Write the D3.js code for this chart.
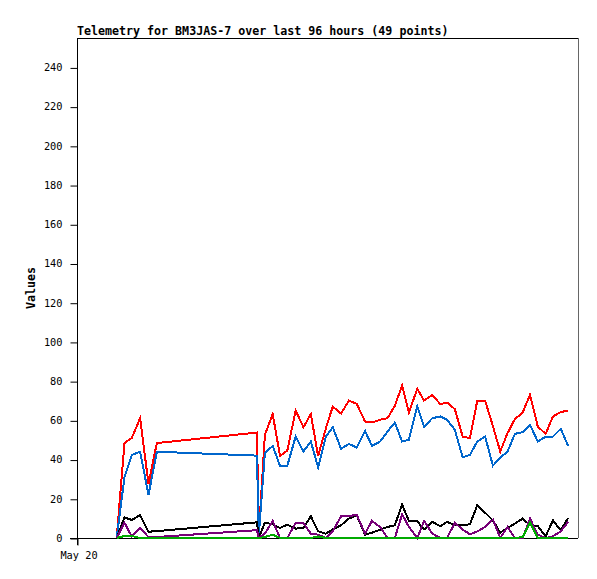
<!DOCTYPE html>
<html>
<head>
<meta charset="utf-8">
<script src="https://cdn.jsdelivr.net/npm/d3@7"></script>
<style>
  html, body { margin: 0; padding: 0; background: #fff; }
  svg { display: block; }
</style>
</head>
<body>
<svg id="chart" width="597" height="579"></svg>
<script>
const titleText = "Telemetry for BM3JAS-7 over last 96 hours (49 points)";
const yAxisLabel = "Values";
const xTickHours = [0];
const xTickLabels = ["May 20"];
const yTicks = [0, 20, 40, 60, 80, 100, 120, 140, 160, 180, 200, 220, 240];

// hours since May 20 00:00
const hours = [7.6, 9.1, 10.5, 12.1, 13.7, 15.3, 34.5, 34.8, 36.0, 37.5, 38.9, 40.3, 41.9, 43.4, 44.8, 46.2, 47.7, 49.0,
  50.6, 52.1, 53.6, 55.2, 56.5, 58.1, 59.5, 60.9, 62.3, 63.6, 65.2, 66.5, 68.1, 69.6, 70.9, 72.4, 73.9, 75.3, 76.7, 78.2,
  79.7, 81.1, 82.5, 83.9, 85.4, 86.8, 88.3, 89.8, 91.2, 92.7, 94.1];

const redValues = [0, 48.4, 51, 61.1, 27.5, 48.4, 53.8, 0, 52.6, 63.2, 41.9, 44.6, 65.0, 56.5, 63.2, 41.9, 56, 67.0,
  63.5, 70.1, 68.4, 59.4, 58.9, 60.3, 61.1, 67.4, 77.8, 64.0, 76.1, 70.1, 73.0, 68.3, 69.1, 65.7, 51.7, 50.9, 70.1, 70.0,
  57, 44.1, 53.5, 60.6, 64.0, 73.0, 56.8, 53.1, 62.0, 64.2, 65.0];

const blueValues = [0, 31, 42.4, 44, 22, 44, 42, 0, 43.2, 47, 36.8, 36.8, 51.7, 44.1, 49.2, 36.1, 51.7, 56.5,
  45.5, 48, 46.1, 54.6, 47, 49.2, 54.3, 58.9, 49.2, 50.1, 67.1, 56.8, 61.1, 62, 60.3, 55.2, 41.2, 42.4, 49.2, 51.7,
  36.9, 41, 44.1, 53.1, 54, 57.7, 49.2, 51.7, 51.7, 55.7, 47];

const blackValues = [0, 10.5, 9.2, 11.7, 3.2, 3.5, 8, 0, 7.8, 7.0, 5.1, 6.8, 4.8, 5.1, 11.1, 3.4, 2.2, 4.4,
  6.5, 9.9, 11.6, 1.7, 2.7, 4.3, 5.6, 6.5, 17.0, 8.7, 8.5, 4.3, 8.2, 6.0, 8.2, 6.5, 6.5, 7.0, 16.7, 12.9,
  9.0, 2.7, 5.1, 7.3, 9.9, 6.5, 6.0, 0.9, 9.0, 3.9, 10.2];

const purpleValues = [0, 7.8, 0.7, 5, 0.5, 0.5, 4, 0, 2.2, 8.7, 0, 0, 7.7, 7.7, 2.2, 1.7, 0, 3.4,
  11.1, 11.1, 11.9, 2.2, 8.7, 5.6, 0, 0, 12.1, 5.6, 0, 8.7, 2.2, 0, 0, 7.7, 4.3, 1.9, 3.4, 5.6,
  9.4, 0, 5.6, 0, 0, 9.9, 1.7, 0, 0.9, 3.4, 8.2];

const greenValues = [0, 1, 1, 0, 0, 0, 0, 0, 0.5, 1.7, 0, 0, 0, 0, 0, 0.8, 0, 0,
  0, 0, 0, 0, 0, 0, 0, 0, 0, 0, 0, 0, 0, 0, 0, 0, 0, 0, 0, 0,
  0, 0, 0, 0, 0.5, 8, 0, 0, 0, 0, 0];

const seriesList = [
  { values: redValues, color: "#ff0000" },
  { values: blueValues, color: "#0066cc" },
  { values: blackValues, color: "#000000" },
  { values: purpleValues, color: "#770077" },
  { values: greenValues, color: "#00aa00" }
];

const svg = d3.select("#chart");
const W = 597, H = 579;
const margin = { left: 77, right: 19, top: 38, bottom: 41 };
const x = d3.scaleLinear().domain([0, 96]).range([margin.left, W - margin.right]);
const y = d3.scaleLinear().domain([0, 255]).range([H - margin.bottom, margin.top]);

svg.append("rect").attr("width", W).attr("height", H).attr("fill", "#fff");

// frame top & right
svg.append("line").attr("x1", x(0)).attr("x2", x(96)).attr("y1", y(255) + 0.5).attr("y2", y(255) + 0.5)
  .attr("stroke", "#000").attr("stroke-width", 1);
svg.append("line").attr("x1", x(96) + 0.5).attr("x2", x(96) + 0.5).attr("y1", y(255)).attr("y2", y(0))
  .attr("stroke", "#666").attr("stroke-width", 1);

const mono = "'DejaVu Sans Mono', 'Liberation Mono', monospace";

// Y axis
const yAxis = d3.axisLeft(y).tickValues(yTicks).tickSize(7).tickPadding(8).tickFormat(d3.format("d"));
const yg = svg.append("g").attr("transform", `translate(${x(0) + 0.5},0)`).call(yAxis);
yg.select(".domain").remove();
yg.append("line").attr("x1", 0).attr("x2", 0).attr("y1", y(255)).attr("y2", y(0) + 7).attr("stroke", "#000");
yg.selectAll(".tick line").attr("stroke", "#000").attr("transform", "translate(0,0.5)");
yg.selectAll(".tick text").attr("font-family", mono).attr("font-size", "10.3px").attr("fill", "#000");

// X axis
const xAxis = d3.axisBottom(x).tickValues(xTickHours).tickSize(7).tickPadding(6)
  .tickFormat((d, i) => xTickLabels[i]);
const xg = svg.append("g").attr("transform", `translate(0,${y(0) + 0.5})`).call(xAxis);
xg.select(".domain").remove();
xg.append("line").attr("x1", x(0) - 7).attr("x2", x(96)).attr("y1", 0).attr("y2", 0).attr("stroke", "#000");
xg.selectAll(".tick line").attr("stroke", "#000").attr("transform", "translate(0.5,0)");
xg.selectAll(".tick text").attr("font-family", mono).attr("font-size", "10.3px").attr("fill", "#000")
  .attr("dx", "1.5");

// lines
const line = d3.line().x(d => x(d[0])).y(d => y(d[1]));
seriesList.forEach(s => {
  const pts = hours.map((h, i) => [h, s.values[i]]);
  svg.append("path").datum(pts).attr("d", line)
    .attr("fill", "none").attr("stroke", s.color).attr("stroke-width", 2)
    .attr("stroke-linejoin", "miter").attr("shape-rendering", "crispEdges");
});

// title
svg.append("text").attr("x", x(0)).attr("y", 35).text(titleText)
  .attr("font-family", mono).attr("font-weight", "bold").attr("font-size", "11.65px").attr("fill", "#000");

// y label
svg.append("text").attr("transform", `translate(35,${(y(0) + y(255)) / 2}) rotate(-90)`)
  .attr("text-anchor", "middle").text(yAxisLabel)
  .attr("font-family", mono).attr("font-weight", "bold").attr("font-size", "11.65px").attr("fill", "#000");
</script>
</body>
</html>
